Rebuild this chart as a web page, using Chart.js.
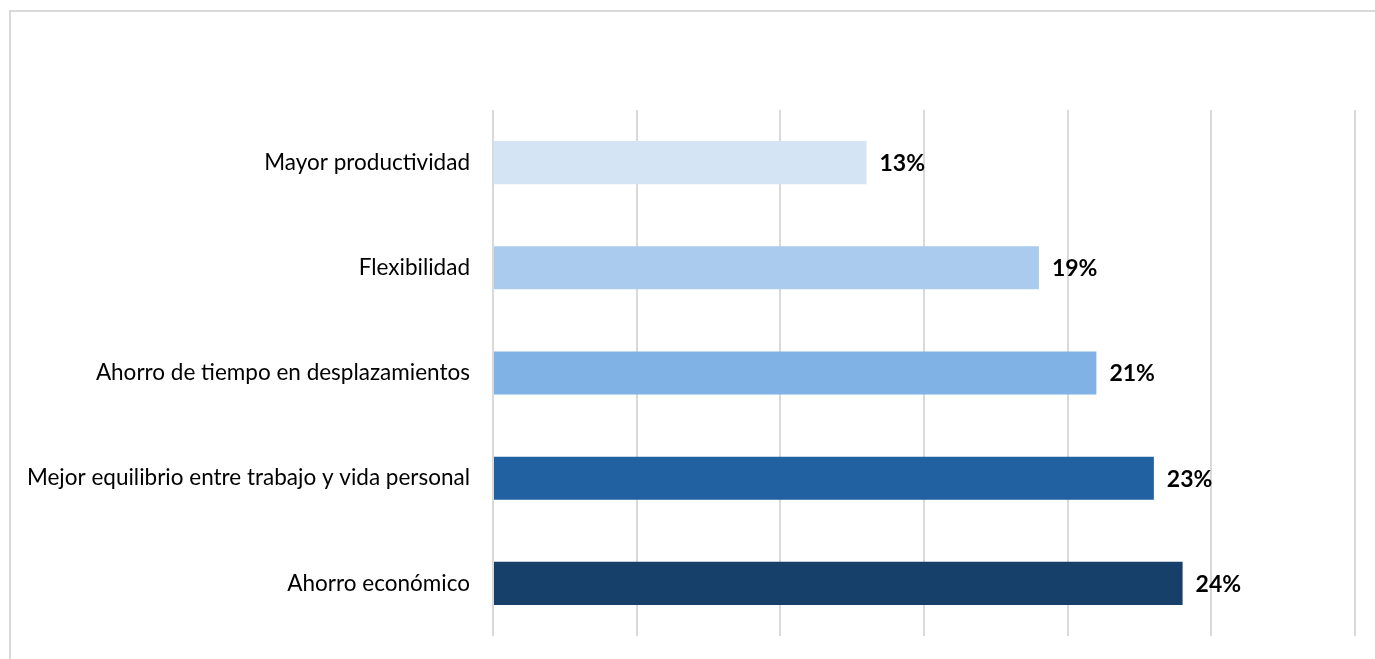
<!DOCTYPE html>
<html>
<head>
<meta charset="utf-8">
<script src="https://cdn.jsdelivr.net/npm/chart.js@4"></script>
<style>
  html, body { margin: 0; padding: 0; background: #fff; overflow: hidden; }
  #frame {
    position: absolute; left: 9px; top: 10px;
    width: 1400px; height: 700px;
    border-left: 2px solid #d9d9d9; border-top: 2px solid #d9d9d9;
  }
  #wrap { position: absolute; left: 0; top: 0; width: 1375px; height: 659px; }
</style>
</head>
<body>
<div id="frame"></div>
<div id="wrap"><canvas id="chart"></canvas></div>
<script>
const categories = [
  'Mayor productividad',
  'Flexibilidad',
  'Ahorro de tiempo en desplazamientos',
  'Mejor equilibrio entre trabajo y vida personal',
  'Ahorro económico'
];
const shares = [13, 19, 21, 23, 24];
const barColors = ['#d5e4f5', '#aacbed', '#80b2e5', '#2161a1', '#163f6a'];

const FONT = 'Lato, "Open Sans", sans-serif';

// writes "NN%" just to the right of each bar
const valueLabels = {
  id: 'valueLabels',
  afterDatasetsDraw(chart) {
    const ctx = chart.ctx;
    const meta = chart.getDatasetMeta(0);
    ctx.save();
    ctx.font = 'bold 23px ' + FONT;
    ctx.fillStyle = '#000';
    ctx.textAlign = 'left';
    ctx.textBaseline = 'middle';
    meta.data.forEach((bar, i) => {
      ctx.fillText(shares[i] + '%', bar.x + 13, bar.y + 1);
    });
    ctx.restore();
  }
};

new Chart(document.getElementById('chart'), {
  type: 'bar',
  data: {
    labels: categories,
    datasets: [{
      data: shares,
      backgroundColor: barColors,
      barPercentage: 0.41,
      categoryPercentage: 1
    }]
  },
  options: {
    indexAxis: 'y',
    responsive: true,
    maintainAspectRatio: false,
    animation: false,
    layout: { padding: { top: 110, bottom: 23, right: 20, left: 0 } },
    plugins: {
      legend: { display: false },
      tooltip: { enabled: false }
    },
    scales: {
      x: {
        min: 0,
        max: 30,
        ticks: { display: false, stepSize: 5 },
        grid: { color: '#d9d9d9', lineWidth: 2, drawTicks: false },
        border: { display: false },
        afterFit(scale) { scale.height = 0; }
      },
      y: {
        ticks: { color: '#000', font: { family: FONT, size: 22.5 }, padding: 15 },
        grid: { display: false },
        border: { display: false },
        afterFit(scale) {
          scale.width = 493;
          scale.paddingTop = 0;
          scale.paddingBottom = 0;
        }
      }
    }
  },
  plugins: [valueLabels]
});
</script>
</body>
</html>
